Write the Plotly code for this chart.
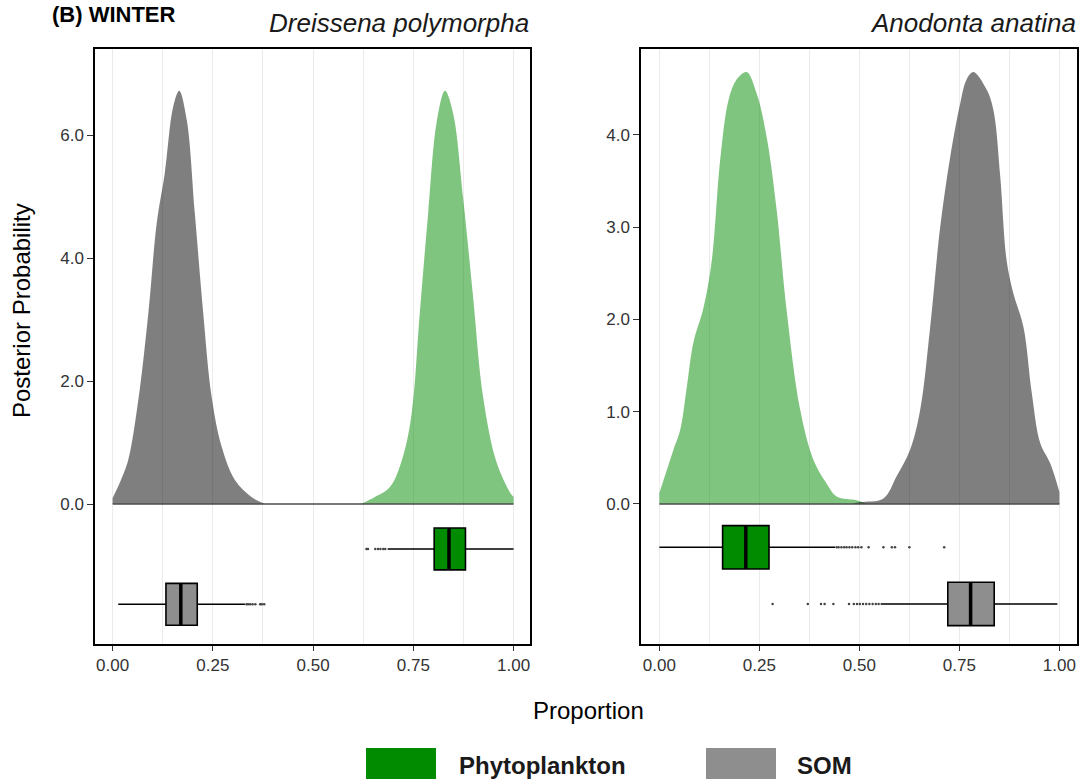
import plotly.graph_objects as go

# ---------------- data ----------------
# Density curves (Proportion vs Posterior Probability)
dp_som_x = [0.0, 0.02, 0.039, 0.064, 0.089, 0.110, 0.130, 0.151, 0.166, 0.185, 0.205, 0.226, 0.247, 0.272, 0.305, 0.347, 0.38]
dp_som_y = [0.10, 0.38, 0.72, 1.69, 3.10, 4.57, 5.38, 6.46, 6.72, 6.24, 4.73, 3.10, 1.74, 0.93, 0.39, 0.11, 0.0]
dp_phy_x = [0.617, 0.65, 0.692, 0.724, 0.746, 0.766, 0.787, 0.808, 0.829, 0.849, 0.874, 0.899, 0.924, 0.958, 0.995, 1.0]
dp_phy_y = [0.0, 0.10, 0.28, 0.77, 1.48, 3.10, 4.73, 6.20, 6.72, 6.36, 4.99, 3.37, 1.74, 0.67, 0.15, 0.12]

aa_phy_x = [0.0, 0.035, 0.052, 0.068, 0.085, 0.11, 0.131, 0.152, 0.173, 0.193, 0.218, 0.243, 0.268, 0.293, 0.318, 0.352, 0.385, 0.418, 0.443, 0.493, 0.52]
aa_phy_y = [0.12, 0.585, 0.80, 1.25, 1.75, 2.12, 2.64, 3.73, 4.38, 4.60, 4.68, 4.45, 3.98, 3.19, 2.10, 1.02, 0.48, 0.22, 0.08, 0.04, 0.0]
aa_som_x = [0.48, 0.502, 0.56, 0.593, 0.627, 0.652, 0.677, 0.702, 0.727, 0.752, 0.768, 0.785, 0.818, 0.835, 0.852, 0.868, 0.885, 0.91, 0.931, 0.952, 0.977, 1.0]
aa_som_y = [0.0, 0.02, 0.06, 0.30, 0.59, 1.02, 1.92, 3.00, 3.76, 4.34, 4.60, 4.68, 4.49, 4.27, 3.55, 2.64, 2.28, 1.92, 1.20, 0.66, 0.44, 0.13]

# Boxplot summaries: [q1, median, q3, lower whisker, upper whisker]
dp_phy_box = [0.802, 0.839, 0.880, 0.686, 1.0]
dp_som_box = [0.133, 0.170, 0.211, 0.014, 0.330]
aa_phy_box = [0.158, 0.216, 0.274, 0.0, 0.439]
aa_som_box = [0.721, 0.778, 0.837, 0.553, 0.995]

dp_phy_out = [0.633, 0.637, 0.655, 0.662, 0.668, 0.675, 0.680]
dp_som_out = [0.334, 0.338, 0.343, 0.349, 0.356, 0.368, 0.372, 0.378]
aa_phy_out = [0.443, 0.448, 0.455, 0.462, 0.468, 0.475, 0.482, 0.490, 0.497, 0.505, 0.523, 0.560, 0.581, 0.589, 0.625, 0.712]
aa_som_out = [0.283, 0.371, 0.404, 0.413, 0.435, 0.474, 0.486, 0.494, 0.501, 0.509, 0.517, 0.525, 0.533, 0.541, 0.548]

species = ["Dreissena polymorpha", "Anodonta anatina"]
sources = ["Phytoplankton", "SOM"]
x_ticks = [0.0, 0.25, 0.5, 0.75, 1.0]
y_ticks_left = [0.0, 2.0, 4.0, 6.0]
y_ticks_right = [0.0, 1.0, 2.0, 3.0, 4.0]

# ---------------- styles ----------------
FONT = "Liberation Sans, Arial, sans-serif"
GREEN_BOX = "#008B00"
GREY_BOX = "#8E8E8E"
GREEN_DENS = "rgba(0,139,0,0.5)"
GREY_DENS = "rgba(0,0,0,0.5)"
W, H = 1087, 784

fig = go.Figure()

def add_density(x, y, color, xa, ya):
    fig.add_trace(go.Scatter(x=x, y=y, mode="lines", fill="tozeroy", fillcolor=color,
                             line=dict(width=0, shape="spline", smoothing=1.0),
                             xaxis=xa, yaxis=ya, showlegend=False, hoverinfo="skip"))

def add_baseline(xa, ya):
    fig.add_trace(go.Scatter(x=[x_ticks[0], x_ticks[-1]], y=[0, 0], mode="lines",
                             line=dict(color="#4D4D4D", width=1.5),
                             xaxis=xa, yaxis=ya, showlegend=False, hoverinfo="skip"))

def add_box(stats, outliers, pos, width, color, xa, ya):
    q1, med, q3, lo, hi = stats
    fig.add_trace(go.Box(q1=[q1], median=[med], q3=[q3], lowerfence=[lo], upperfence=[hi],
                         y=[pos], orientation="h", width=width, fillcolor=color,
                         line=dict(color="black", width=1.6), whiskerwidth=0,
                         boxpoints=False, xaxis=xa, yaxis=ya, showlegend=False))
    fig.add_trace(go.Scatter(x=[med, med], y=[pos - width / 2, pos + width / 2], mode="lines",
                             line=dict(color="black", width=3.5),
                             xaxis=xa, yaxis=ya, showlegend=False, hoverinfo="skip"))
    fig.add_trace(go.Scatter(x=outliers, y=[pos] * len(outliers), mode="markers",
                             marker=dict(color="#444444", size=2.5),
                             xaxis=xa, yaxis=ya, showlegend=False, hoverinfo="skip"))

# Left panel
add_density(dp_som_x, dp_som_y, GREY_DENS, "x", "y")
add_density(dp_phy_x, dp_phy_y, GREEN_DENS, "x", "y")
add_baseline("x", "y")
add_box(dp_phy_box, dp_phy_out, -0.73, 0.68, GREEN_BOX, "x", "y")
add_box(dp_som_box, dp_som_out, -1.63, 0.68, GREY_BOX, "x", "y")

# Right panel
add_density(aa_phy_x, aa_phy_y, GREEN_DENS, "x2", "y2")
add_density(aa_som_x, aa_som_y, GREY_DENS, "x2", "y2")
add_baseline("x2", "y2")
add_box(aa_phy_box, aa_phy_out, -0.47, 0.47, GREEN_BOX, "x2", "y2")
add_box(aa_som_box, aa_som_out, -1.084, 0.47, GREY_BOX, "x2", "y2")

def px_x(p):
    return p / W

def px_y(p):
    return 1 - p / H

top, bottom = 49, 644
xaxis_common = dict(
    tickvals=x_ticks, ticktext=["%.2f" % v for v in x_ticks],
    showgrid=True, gridcolor="#EBEBEB", gridwidth=1,
    minor=dict(dtick=0.125, tick0=0, showgrid=True, gridcolor="#EBEBEB", gridwidth=1),
    zeroline=False, showline=True, linecolor="black", linewidth=1.5, mirror=True,
    ticks="outside", ticklen=5, tickwidth=1.2, tickcolor="#333333",
    tickfont=dict(family=FONT, size=17, color="#333333"),
)
yaxis_common = dict(
    showgrid=False, zeroline=False, showline=True, linecolor="black", linewidth=1.5, mirror=True,
    ticks="outside", ticklen=6, tickwidth=1.2, tickcolor="#333333",
    tickfont=dict(family=FONT, size=17, color="#333333"),
)

fig.update_layout(
    width=W, height=H, margin=dict(l=0, r=0, t=0, b=0),
    paper_bgcolor="white", plot_bgcolor="white", boxmode="overlay",
    xaxis=dict(domain=[px_x(95), px_x(530)], range=[-0.044, 1.041], anchor="y", **xaxis_common),
    xaxis2=dict(domain=[px_x(641), px_x(1077)], range=[-0.046, 1.044], anchor="y2", **xaxis_common),
    yaxis=dict(domain=[px_y(bottom), px_y(top)], range=[-2.276, 7.40], anchor="x",
               tickvals=y_ticks_left, ticktext=["%.1f" % v for v in y_ticks_left], **yaxis_common),
    yaxis2=dict(domain=[px_y(bottom), px_y(top)], range=[-1.518, 4.93], anchor="x2",
                tickvals=y_ticks_right, ticktext=["%.1f" % v for v in y_ticks_right], **yaxis_common),
)

ann = []
ann.append(dict(text="<b>(B) WINTER</b>", x=px_x(50), y=px_y(0), xref="paper", yref="paper",
                xanchor="left", yanchor="top", showarrow=False,
                font=dict(family=FONT, size=22, color="black")))
ann.append(dict(text="<i>%s</i>" % species[0], x=px_x(531), y=px_y(23), xref="paper", yref="paper",
                xanchor="right", yanchor="middle", showarrow=False,
                font=dict(family=FONT, size=26, color="#1a1a1a")))
ann.append(dict(text="<i>%s</i>" % species[1], x=px_x(1078), y=px_y(23), xref="paper", yref="paper",
                xanchor="right", yanchor="middle", showarrow=False,
                font=dict(family=FONT, size=26, color="#1a1a1a")))
ann.append(dict(text="Posterior Probability", x=px_x(22), y=px_y(311), xref="paper", yref="paper",
                xanchor="center", yanchor="middle", textangle=-90, showarrow=False,
                font=dict(family=FONT, size=24, color="black")))
ann.append(dict(text="Proportion", x=px_x(588), y=px_y(710), xref="paper", yref="paper",
                xanchor="center", yanchor="middle", showarrow=False,
                font=dict(family=FONT, size=24, color="black")))
# legend
shapes = []
leg_items = [(sources[0], GREEN_BOX, 366, 457), (sources[1], GREY_BOX, 706, 795)]
for name, col, sx, tx in leg_items:
    shapes.append(dict(type="rect", xref="paper", yref="paper", x0=px_x(sx), x1=px_x(sx + 70),
                       y0=px_y(779), y1=px_y(748), fillcolor=col, line=dict(width=0)))
    ann.append(dict(text="<b>%s</b>" % name, x=px_x(tx), y=px_y(765), xref="paper", yref="paper",
                    xanchor="left", yanchor="middle", showarrow=False,
                    font=dict(family=FONT, size=24, color="#1a1a1a")))

fig.update_layout(annotations=ann, shapes=shapes)
fig.write_html("out.html")
